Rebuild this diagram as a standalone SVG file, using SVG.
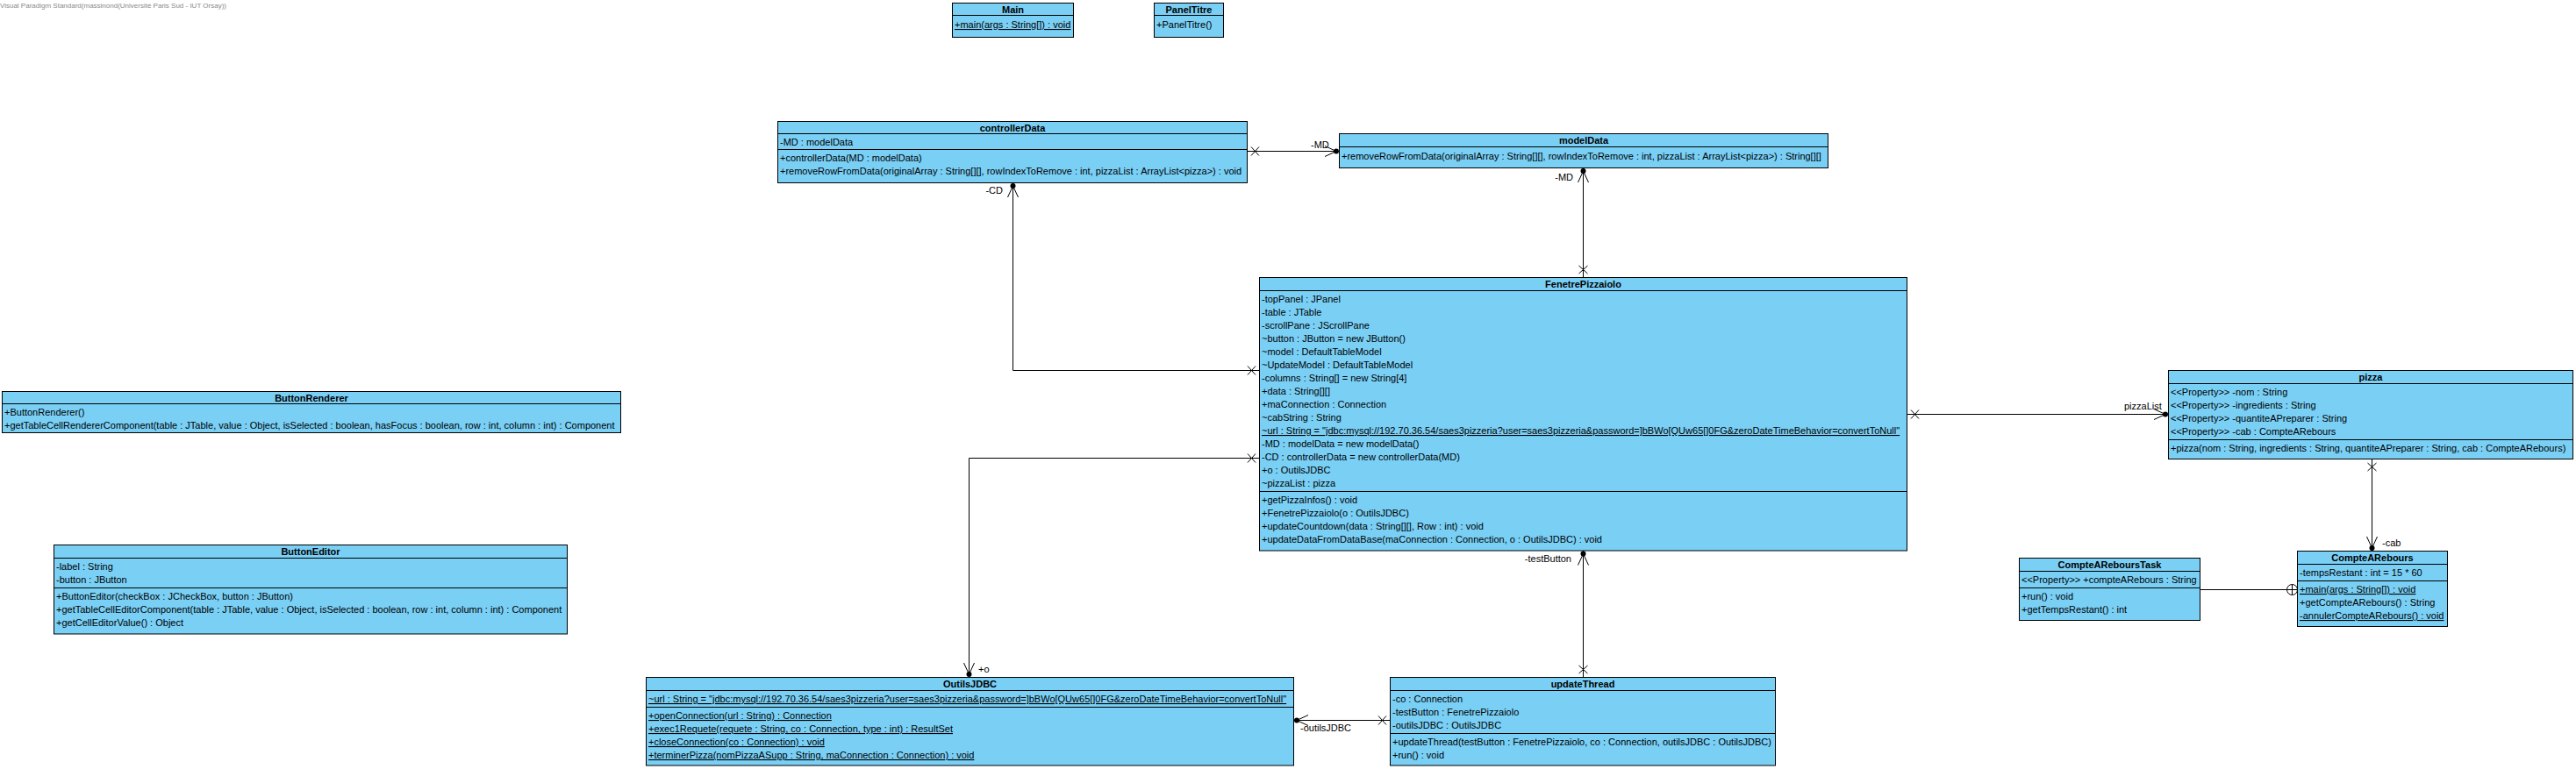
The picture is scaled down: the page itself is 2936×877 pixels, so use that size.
<svg xmlns="http://www.w3.org/2000/svg" width="2936" height="877" viewBox="0 0 2936 877">
<style>
.bg{fill:#ffffff}
.box{fill:#7ACFF5;stroke:#000;stroke-width:1}
.sep{stroke:#000;stroke-width:1}
text{font-family:"Liberation Sans",Arial,sans-serif;font-size:11px;fill:#000}
.h{font-weight:bold;text-anchor:middle}
.u{text-decoration:underline}
.e{text-anchor:end}
.wm{font-size:8px;fill:#8a8a8a}
.c{stroke:#000;stroke-width:1;fill:none}
</style>
<defs>
<marker id="xs" markerUnits="userSpaceOnUse" markerWidth="20" markerHeight="20" refX="0" refY="0" orient="auto" overflow="visible">
<path d="M4.5,-5 L13.5,5 M4.5,5 L13.5,-5" stroke="#000" stroke-width="1" fill="none"/>
</marker>
<marker id="ae" markerUnits="userSpaceOnUse" markerWidth="20" markerHeight="20" refX="0" refY="0" orient="auto" overflow="visible">
<path d="M-16.5,-6 L-3.5,0 L-16.5,6" stroke="#000" stroke-width="1" fill="none"/>
<circle cx="-3.5" cy="0" r="3" fill="#000"/>
</marker>
</defs>
<rect class="bg" x="0" y="0" width="2936" height="877"/>
<text class="wm" x="0" y="9">Visual Paradigm Standard(massinond(Université Paris Sud - IUT Orsay))</text>

<g id="connectors">
<path class="c" d="M1421.5,172.5 H1526.5" marker-start="url(#xs)" marker-end="url(#ae)"/>
<text x="1494" y="169">-MD</text>
<path class="c" d="M1804.5,316.5 V191.5" marker-start="url(#xs)" marker-end="url(#ae)"/>
<text class="e" x="1793" y="205.5">-MD</text>
<path class="c" d="M1435.5,422.5 H1154.5 V208.5" marker-start="url(#xs)" marker-end="url(#ae)"/>
<text class="e" x="1143" y="221">-CD</text>
<path class="c" d="M1435.5,522.5 H1104.5 V772.5" marker-start="url(#xs)" marker-end="url(#ae)"/>
<text x="1115" y="767">+o</text>
<path class="c" d="M2173.5,472.5 H2471.5" marker-start="url(#xs)" marker-end="url(#ae)"/>
<text x="2421" y="467">pizzaList</text>
<path class="c" d="M2703.5,523.5 V628.5" marker-start="url(#xs)" marker-end="url(#ae)"/>
<text x="2715" y="623">-cab</text>
<path class="c" d="M1804.5,772.5 V628" marker-start="url(#xs)" marker-end="url(#ae)"/>
<text class="e" x="1791" y="641">-testButton</text>
<path class="c" d="M1584.5,821.5 H1474.5" marker-start="url(#xs)" marker-end="url(#ae)"/>
<text x="1482" y="833.5">-outilsJDBC</text>
<path class="c" d="M2507.5,672.5 H2606.5"/>
<circle class="c" cx="2612.5" cy="672.5" r="6"/>
<path class="c" d="M2606.5,672.5 H2618.5 M2612.5,666.5 V678.5"/>
</g>

<g id="Main">
<rect class="box" x="1085.5" y="3.5" width="138" height="39"/>
<line class="sep" x1="1085.5" y1="17.5" x2="1223.5" y2="17.5"/>
<text class="h" x="1154.5" y="14.5">Main</text>
<text class="u" x="1088" y="32">+main(args : String[]) : void</text>
</g>

<g id="PanelTitre">
<rect class="box" x="1315.5" y="3.5" width="79" height="39"/>
<line class="sep" x1="1315.5" y1="17.5" x2="1394.5" y2="17.5"/>
<text class="h" x="1355" y="14.5">PanelTitre</text>
<text x="1318" y="32">+PanelTitre()</text>
</g>

<g id="controllerData">
<rect class="box" x="886.5" y="138.5" width="535" height="70"/>
<line class="sep" x1="886.5" y1="152.5" x2="1421.5" y2="152.5"/>
<line class="sep" x1="886.5" y1="170.5" x2="1421.5" y2="170.5"/>
<text class="h" x="1154" y="149.5">controllerData</text>
<text x="889" y="165.5">-MD : modelData</text>
<text x="889" y="184">+controllerData(MD : modelData)</text>
<text x="889" y="199">+removeRowFromData(originalArray : String[][], rowIndexToRemove : int, pizzaList : ArrayList&lt;pizza&gt;) : void</text>
</g>

<g id="modelData">
<rect class="box" x="1526.5" y="152.5" width="557" height="39"/>
<line class="sep" x1="1526.5" y1="167.5" x2="2083.5" y2="167.5"/>
<text class="h" x="1805" y="163.5">modelData</text>
<text x="1529" y="181.5">+removeRowFromData(originalArray : String[][], rowIndexToRemove : int, pizzaList : ArrayList&lt;pizza&gt;) : String[][]</text>
</g>

<g id="FenetrePizzaiolo">
<rect class="box" x="1435.5" y="316.5" width="738" height="311.5"/>
<line class="sep" x1="1435.5" y1="331.5" x2="2173.5" y2="331.5"/>
<line class="sep" x1="1435.5" y1="560.5" x2="2173.5" y2="560.5"/>
<text class="h" x="1804.5" y="328">FenetrePizzaiolo</text>
<text x="1438" y="345">-topPanel : JPanel</text>
<text x="1438" y="360">-table : JTable</text>
<text x="1438" y="375">-scrollPane : JScrollPane</text>
<text x="1438" y="390">~button : JButton = new JButton()</text>
<text x="1438" y="405">~model : DefaultTableModel</text>
<text x="1438" y="420">~UpdateModel : DefaultTableModel</text>
<text x="1438" y="435">-columns : String[] = new String[4]</text>
<text x="1438" y="450">+data : String[][]</text>
<text x="1438" y="465">+maConnection : Connection</text>
<text x="1438" y="480">~cabString : String</text>
<text class="u" x="1438" y="495">~url : String = "jdbc:mysql://192.70.36.54/saes3pizzeria?user=saes3pizzeria&amp;password=]bBWo[QUw65[]0FG&amp;zeroDateTimeBehavior=convertToNull"</text>
<text x="1438" y="510">-MD : modelData = new modelData()</text>
<text x="1438" y="525">-CD : controllerData = new controllerData(MD)</text>
<text x="1438" y="540">+o : OutilsJDBC</text>
<text x="1438" y="555">~pizzaList : pizza</text>
<text x="1438" y="574">+getPizzaInfos() : void</text>
<text x="1438" y="589">+FenetrePizzaiolo(o : OutilsJDBC)</text>
<text x="1438" y="604">+updateCountdown(data : String[][], Row : int) : void</text>
<text x="1438" y="619">+updateDataFromDataBase(maConnection : Connection, o : OutilsJDBC) : void</text>
</g>

<g id="ButtonRenderer">
<rect class="box" x="2.5" y="446.5" width="705" height="47"/>
<line class="sep" x1="2.5" y1="460.5" x2="707.5" y2="460.5"/>
<text class="h" x="355" y="457.5">ButtonRenderer</text>
<text x="5" y="474">+ButtonRenderer()</text>
<text x="5" y="489">+getTableCellRendererComponent(table : JTable, value : Object, isSelected : boolean, hasFocus : boolean, row : int, column : int) : Component</text>
</g>

<g id="ButtonEditor">
<rect class="box" x="61.5" y="621.5" width="585" height="101.5"/>
<line class="sep" x1="61.5" y1="636.5" x2="646.5" y2="636.5"/>
<line class="sep" x1="61.5" y1="670.5" x2="646.5" y2="670.5"/>
<text class="h" x="354" y="633">ButtonEditor</text>
<text x="64" y="650">-label : String</text>
<text x="64" y="665">-button : JButton</text>
<text x="64" y="684">+ButtonEditor(checkBox : JCheckBox, button : JButton)</text>
<text x="64" y="699">+getTableCellEditorComponent(table : JTable, value : Object, isSelected : boolean, row : int, column : int) : Component</text>
<text x="64" y="714">+getCellEditorValue() : Object</text>
</g>

<g id="pizza">
<rect class="box" x="2471.5" y="422.5" width="461" height="101"/>
<line class="sep" x1="2471.5" y1="437.5" x2="2932.5" y2="437.5"/>
<line class="sep" x1="2471.5" y1="501.5" x2="2932.5" y2="501.5"/>
<text class="h" x="2702" y="434">pizza</text>
<text x="2474" y="451">&lt;&lt;Property&gt;&gt; -nom : String</text>
<text x="2474" y="466">&lt;&lt;Property&gt;&gt; -ingredients : String</text>
<text x="2474" y="481">&lt;&lt;Property&gt;&gt; -quantiteAPreparer : String</text>
<text x="2474" y="496">&lt;&lt;Property&gt;&gt; -cab : CompteARebours</text>
<text x="2474" y="515">+pizza(nom : String, ingredients : String, quantiteAPreparer : String, cab : CompteARebours)</text>
</g>

<g id="CompteAReboursTask">
<rect class="box" x="2301.5" y="636.5" width="206" height="71"/>
<line class="sep" x1="2301.5" y1="651.5" x2="2507.5" y2="651.5"/>
<line class="sep" x1="2301.5" y1="670.5" x2="2507.5" y2="670.5"/>
<text class="h" x="2404.5" y="648">CompteAReboursTask</text>
<text x="2304" y="665">&lt;&lt;Property&gt;&gt; +compteARebours : String</text>
<text x="2304" y="684">+run() : void</text>
<text x="2304" y="699">+getTempsRestant() : int</text>
</g>

<g id="CompteARebours">
<rect class="box" x="2618.5" y="628.5" width="171" height="86"/>
<line class="sep" x1="2618.5" y1="643.5" x2="2789.5" y2="643.5"/>
<line class="sep" x1="2618.5" y1="662.5" x2="2789.5" y2="662.5"/>
<text class="h" x="2704" y="640">CompteARebours</text>
<text x="2621" y="657">-tempsRestant : int = 15 * 60</text>
<text class="u" x="2621" y="676">+main(args : String[]) : void</text>
<text x="2621" y="691">+getCompteARebours() : String</text>
<text class="u" x="2621" y="706">-annulerCompteARebours() : void</text>
</g>

<g id="OutilsJDBC">
<rect class="box" x="736.5" y="772.5" width="738" height="100.5"/>
<line class="sep" x1="736.5" y1="787.5" x2="1474.5" y2="787.5"/>
<line class="sep" x1="736.5" y1="806.5" x2="1474.5" y2="806.5"/>
<text class="h" x="1105.5" y="784">OutilsJDBC</text>
<text class="u" x="739" y="801">~url : String = "jdbc:mysql://192.70.36.54/saes3pizzeria?user=saes3pizzeria&amp;password=]bBWo[QUw65[]0FG&amp;zeroDateTimeBehavior=convertToNull"</text>
<text class="u" x="739" y="820">+openConnection(url : String) : Connection</text>
<text class="u" x="739" y="835">+exec1Requete(requete : String, co : Connection, type : int) : ResultSet</text>
<text class="u" x="739" y="850">+closeConnection(co : Connection) : void</text>
<text class="u" x="739" y="865">+terminerPizza(nomPizzaASupp : String, maConnection : Connection) : void</text>
</g>

<g id="updateThread">
<rect class="box" x="1584.5" y="772.5" width="439" height="100.5"/>
<line class="sep" x1="1584.5" y1="787.5" x2="2023.5" y2="787.5"/>
<line class="sep" x1="1584.5" y1="836.5" x2="2023.5" y2="836.5"/>
<text class="h" x="1804" y="784">updateThread</text>
<text x="1587" y="801">-co : Connection</text>
<text x="1587" y="816">-testButton : FenetrePizzaiolo</text>
<text x="1587" y="831">-outilsJDBC : OutilsJDBC</text>
<text x="1587" y="850">+updateThread(testButton : FenetrePizzaiolo, co : Connection, outilsJDBC : OutilsJDBC)</text>
<text x="1587" y="865">+run() : void</text>
</g>
</svg>
